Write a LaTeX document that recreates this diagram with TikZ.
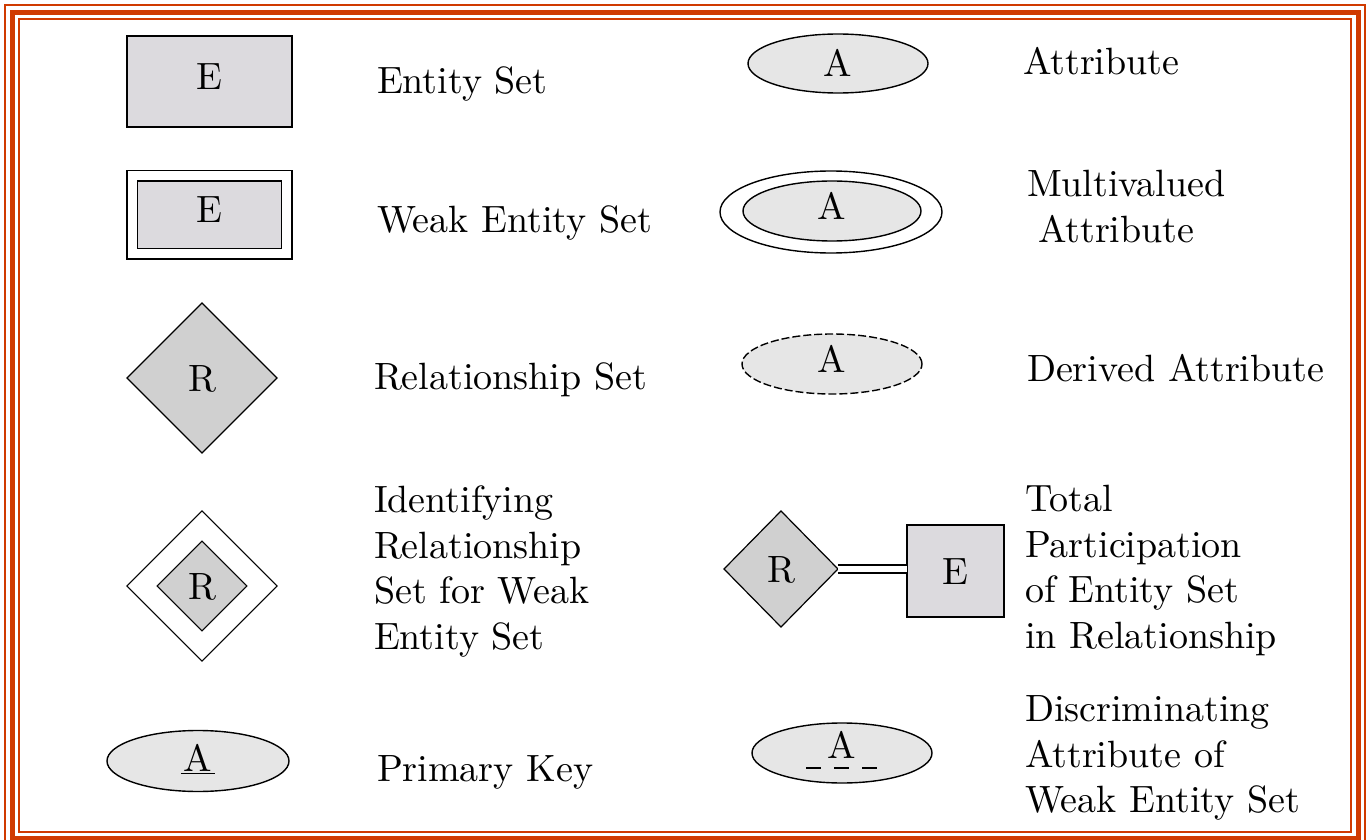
\documentclass[tikz,border=0pt]{standalone}
\usepackage{fontspec}
\setmainfont{lmroman10-regular}[Extension=.otf]
\usetikzlibrary{shapes.geometric}
\definecolor{framecol}{RGB}{208,58,0}
\definecolor{entfill}{RGB}{220,218,222}
\definecolor{relfill}{RGB}{208,208,208}
\definecolor{attfill}{RGB}{230,230,230}
\begin{document}
\begin{tikzpicture}[x=0.5pt,y=-0.5pt,
  every node/.style={font=\fontsize{19}{22.75}\selectfont, inner sep=0pt, outer sep=0pt},
  symb/.style={text height=13pt, text depth=0pt},
  entity/.style={symb, rectangle, draw, line width=0.8pt, fill=entfill},
  rel/.style={symb, diamond, draw, line width=0.6pt, fill=relfill, aspect=1},
  attr/.style={symb, ellipse, draw, line width=0.7pt, fill=attfill},
  desc/.style={anchor=north west, align=left},
  frm/.style={draw=framecol}
]
\useasboundingbox (0,0) rectangle (1367,840);
\clip (0,0) rectangle (1367,840);
% frame
\draw[frm, line width=1pt] (5,5.5) rectangle (1365,846);
\draw[frm, line width=2.5pt] (12.5,12.5) rectangle (1358,838);
\draw[frm, line width=1pt] (19,19) rectangle (1351,832);

% left column symbols
\node[entity, minimum width=82.5pt, minimum height=45.5pt, text depth=4.5pt] (ent) at (209.5,81.5) {E};
\node[entity, double, double distance=4.5pt, line width=0.75pt, minimum width=77.25pt, minimum height=39pt, text depth=5pt] (wk) at (209.5,215) {E};
\node[rel, minimum width=75pt, minimum height=75pt] (rs) at (202,378) {R};
\node[rel, double, double distance=10pt, minimum width=60pt, minimum height=60pt] (irs) at (202,586) {R};
\node[attr, minimum width=91pt, minimum height=30.5pt, text depth=3pt] (pk) at (198,761) {\underline{\kern1.5pt A\kern1.5pt}};

% right column symbols
\node[attr, minimum width=90pt, minimum height=29.5pt] (at) at (838,63.5) {A};
\node[attr, fill=white, minimum width=111pt, minimum height=41pt] (mvo) at (831,212) {};
\node[attr, minimum width=89pt, minimum height=30pt, text depth=4pt] (mv) at (832,211) {A};
\node[attr, dash pattern=on 4pt off 1.5pt, minimum width=90pt, minimum height=30pt, text depth=5pt] (der) at (832,364) {A};
\node[rel, minimum width=57pt, minimum height=58pt] (tr) at (781,569) {R};
\node[entity, minimum width=48.5pt, minimum height=46pt] (te) at (955.5,571) {E};
\draw[double, double distance=3.25pt, line width=0.65pt] (tr.east) -- (tr.east -| te.west);
\node[attr, minimum width=90pt, minimum height=30pt, text depth=8pt] (da) at (842,753) {A};
\draw[line width=0.75pt, dash pattern=on 7.5pt off 6.5pt] ([shift={(-36,15)}]da.center) -- ([shift={(35,15)}]da.center);

% labels
\node[desc] (l1) at (377,62) {\strut Entity Set};
\node[desc] (l2) at (377,201) {\strut Weak Entity Set};
\node[desc] (l3) at (374,358) {\strut Relationship Set};
\node[desc] (l4) at (374,481) {\strut Identifying\\Relationship\\Set for Weak\\Entity Set};
\node[desc] (l5) at (377,750) {\strut Primary Key};
\node[desc] (r1) at (1023,43) {\strut Attribute};
\node[desc] (r2) at (1027,165) {\strut Multivalued\\\hspace*{5.5pt}Attribute};
\node[desc] (r3) at (1027,350) {\strut Derived Attribute};
\node[desc] (r4) at (1025,480) {\strut Total\\Participation\\of Entity Set\\in Relationship};
\node[desc] (r5) at (1025,690) {\strut Discriminating\\Attribute of\\Weak Entity Set};
\end{tikzpicture}
\end{document}
